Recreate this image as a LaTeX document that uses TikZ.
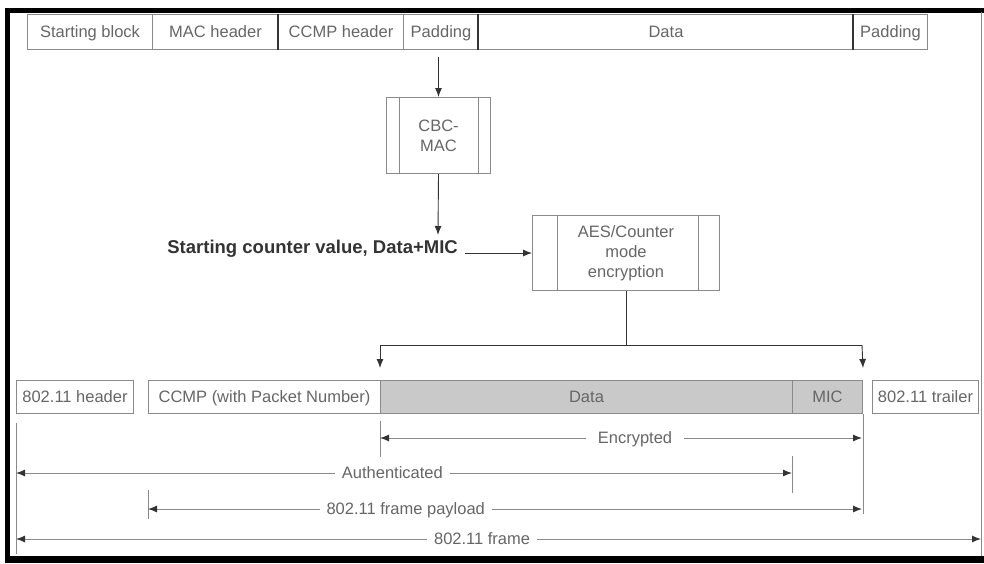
\documentclass[tikz,border=0pt]{standalone}
\usepackage{fontspec}
\setmainfont{Liberation Sans}
\usetikzlibrary{arrows.meta}
\definecolor{boxgray}{HTML}{8A8A8A}
\definecolor{txtgray}{HTML}{666666}
\definecolor{fillgray}{HTML}{C9C9C9}
\definecolor{darkline}{HTML}{333333}
\begin{document}
\begin{tikzpicture}[x=1pt,y=-1pt,
  lbl/.style={font=\fontsize{16.5}{20}\selectfont, text=txtgray},
  cell/.style={lbl, draw=boxgray, line width=1pt, minimum height=35pt, inner sep=0pt, anchor=north west, text height=11.8pt, text depth=0pt},
  bcell/.style={cell, minimum height=33pt},
  proc/.style={lbl, draw=boxgray, line width=1pt, inner sep=0pt, anchor=north west, align=center},
  divider/.style={draw=darkline, line width=1.2pt},
  arr/.style={draw=darkline, line width=0.9pt, -{Latex[length=9pt,width=7pt]}},
  conn/.style={draw=darkline, line width=0.9pt},
  dim/.style={draw=boxgray, line width=1pt, {Latex[length=9pt,width=7pt,color=darkline]}-{Latex[length=9pt,width=7pt,color=darkline]}},
  dimlbl/.style={lbl, fill=white, inner xsep=7pt, inner ysep=0pt, text height=11.8pt, text depth=0pt},
  tick/.style={draw=boxgray, line width=1pt}]
\useasboundingbox (0,0) rectangle (984,563);
% outer frame
\draw[black, line width=5pt] (7.5,563) -- (7.5,10) -- (984,10);
\draw[black, line width=7pt] (5,559.5) -- (984,559.5);
\draw[boxgray, line width=1pt] (981.5,12) -- (981.5,556);
% top row
\node[cell, minimum width=125pt] (sb) at (27,14) {Starting block};
\node[cell, minimum width=126pt] (mac) at (152,14) {MAC header};
\node[cell, minimum width=125pt] (ccmph) at (278,14) {CCMP header};
\node[cell, minimum width=75pt] (pad1) at (403,14) {Padding};
\node[cell, minimum width=375pt] (data1) at (478,14) {Data};
\node[cell, minimum width=74pt] (pad2) at (853,14) {Padding};
\draw[divider] (ccmph.north west) -- (ccmph.south west);
\draw[divider] (data1.north west) -- (data1.south west);
\draw[divider] (pad2.north west) -- (pad2.south west);
% CBC-MAC
\node[proc, minimum width=104pt, minimum height=76pt] (cbc) at (386,97) {CBC-\\MAC};
\draw[boxgray, line width=1pt] ([xshift=13pt]cbc.north west) -- ([xshift=13pt]cbc.south west);
\draw[boxgray, line width=1pt] ([xshift=-13pt]cbc.north east) -- ([xshift=-13pt]cbc.south east);
\draw[arr] ([yshift=-7pt]cbc.north |- pad1.south) -- (cbc.north);
% AES
\node[proc, minimum width=187pt, minimum height=75pt] (aes) at (532,215) {AES/Counter\\mode\\encryption};
\draw[boxgray, line width=1pt] ([xshift=25pt]aes.north west) -- ([xshift=25pt]aes.south west);
\draw[boxgray, line width=1pt] ([xshift=-22pt]aes.north east) -- ([xshift=-22pt]aes.south east);
% starting counter text
\node[font=\bfseries\fontsize{18.5}{22}\selectfont, text=darkline, anchor=east, inner sep=0pt] (start) at (458,249) {Starting counter value, Data+MIC};
\coordinate (cbcend) at (438,235);
\draw[arr] (cbc.south) -- (cbcend);
\draw[arr] ([xshift=7pt]start.east |- aes.west) -- (aes.west);
% bottom row
\node[bcell, minimum width=117pt] (hdr) at (16,380) {802.11 header};
\node[bcell, minimum width=232pt] (ccmp) at (148,380) {CCMP (with Packet Number)};
\node[bcell, minimum width=412pt, fill=fillgray] (data2) at (380,380) {Data};
\node[bcell, minimum width=70pt, fill=fillgray] (mic) at (792,380) {MIC};
\node[bcell, minimum width=106pt] (trl) at (872,380) {802.11 trailer};
% bus from AES
\coordinate (busL) at (380,345);
\coordinate (busR) at (862,345);
\draw[conn] (aes.south) -- (aes.south |- busL);
\draw[conn] (busL) -- (busR);
\draw[arr] (busL) -- ([yshift=12pt]data2.north west);
\draw[arr] (busR) -- ([yshift=12pt]mic.north east);
% ticks
\draw[tick] ([yshift=-7pt]data2.south west) -- ++(0,36);
\draw[tick] (mic.south east) -- ++(0,100);
\draw[tick] ([yshift=-42pt]mic.south west) -- ++(0,37);
\draw[tick] ([yshift=-76pt]ccmp.south west) -- ++(0,29);
\draw[tick] ([yshift=-9pt]hdr.south west) -- ++(0,131);
% dimension lines
\coordinate (e1) at (380,438); \coordinate (e2) at (862,438);
\coordinate (a1) at (16,473);  \coordinate (a2) at (792,473);
\coordinate (p1) at (148,509); \coordinate (p2) at (862,509);
\coordinate (f1) at (16,539);  \coordinate (f2) at (981,539);
\draw[dim] (e1) -- node[dimlbl, pos=0.529, inner xsep=12pt] {Encrypted} (e2);
\draw[dim] (a1) -- node[dimlbl, pos=0.485] {Authenticated} (a2);
\draw[dim] (p1) -- node[dimlbl, pos=0.361] {802.11 frame payload} (p2);
\draw[dim] (f1) -- node[dimlbl, pos=0.483] {802.11 frame} (f2);
\end{tikzpicture}
\end{document}
